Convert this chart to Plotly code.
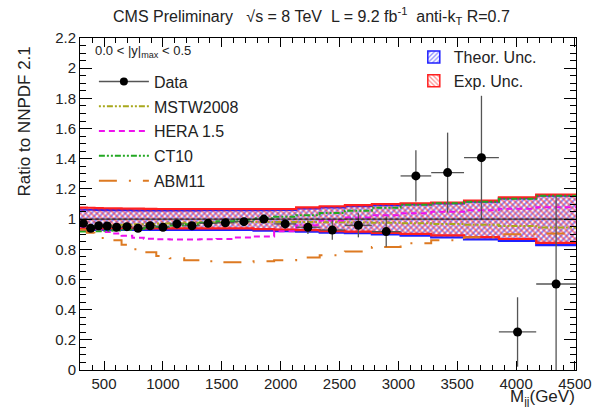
import plotly.graph_objects as go

# ---------------- data ----------------
bin_edges = [296, 354, 419, 489, 565, 649, 740, 838, 944, 1058, 1181, 1313, 1455,
             1607, 1770, 1945, 2132, 2332, 2546, 2775, 3019, 3279, 3558, 3854, 4171, 4509]

data_ratio = [0.972, 0.939, 0.956, 0.954, 0.946, 0.950, 0.939, 0.956, 0.946, 0.968,
              0.956, 0.972, 0.976, 0.983, 1.000, 0.968, 0.946, 0.928, 0.959, 0.917,
              1.286, 1.308, 1.407, 0.252, 0.570]
data_err = [0.010, 0.010, 0.010, 0.010, 0.010, 0.010, 0.012, 0.012, 0.013, 0.014,
            0.015, 0.017, 0.020, 0.022, 0.025, 0.030, 0.045, 0.065, 0.080, 0.100,
            0.170, 0.265, 0.410, 0.230, 0.580]

theor_up = [1.062, 1.062, 1.061, 1.060, 1.060, 1.059, 1.058, 1.058, 1.058, 1.058,
            1.058, 1.059, 1.059, 1.060, 1.060, 1.061, 1.071, 1.078, 1.086, 1.093,
            1.098, 1.104, 1.115, 1.137, 1.155]
theor_dn = [0.929, 0.929, 0.928, 0.928, 0.928, 0.928, 0.928, 0.928, 0.928, 0.928,
            0.928, 0.928, 0.928, 0.928, 0.924, 0.920, 0.917, 0.910, 0.907, 0.899,
            0.890, 0.879, 0.866, 0.855, 0.828]
exp_up = [1.076, 1.075, 1.073, 1.072, 1.071, 1.070, 1.069, 1.068, 1.067, 1.067,
          1.067, 1.067, 1.067, 1.067, 1.067, 1.067, 1.078, 1.085, 1.093, 1.100,
          1.105, 1.110, 1.122, 1.144, 1.162]
exp_dn = [0.939, 0.939, 0.938, 0.938, 0.938, 0.938, 0.938, 0.938, 0.938, 0.938,
          0.938, 0.938, 0.938, 0.938, 0.934, 0.930, 0.927, 0.920, 0.917, 0.909,
          0.902, 0.892, 0.880, 0.868, 0.842]

mstw2008 = [0.950, 0.952, 0.955, 0.957, 0.960, 0.962, 0.965, 0.968, 0.970, 0.972,
            0.975, 0.977, 0.979, 0.980, 0.981, 0.981, 0.980, 0.979, 0.977, 0.975,
            0.972, 0.968, 0.963, 0.955, 0.945]
hera15 = [0.950, 0.935, 0.925, 0.915, 0.905, 0.890, 0.877, 0.870, 0.866, 0.864,
          0.864, 0.866, 0.868, 0.878, 0.885, 0.920, 0.960, 0.990, 1.010, 1.025,
          1.038, 1.048, 1.058, 1.068, 1.078]
ct10 = [0.918, 0.918, 0.920, 0.922, 0.925, 0.930, 0.935, 0.942, 0.950, 0.958,
        0.966, 0.975, 0.985, 0.995, 1.005, 1.015, 1.025, 1.040, 1.055, 1.075,
        1.095, 1.105, 1.115, 1.135, 1.155]
abm11 = [0.930, 0.910, 0.895, 0.875, 0.860, 0.830, 0.800, 0.780, 0.755, 0.740,
         0.727, 0.720, 0.714, 0.714, 0.720, 0.728, 0.745, 0.760, 0.785, 0.815,
         0.840, 0.860, 0.880, 0.900, 0.905]

x_tick_vals = [500, 1000, 1500, 2000, 2500, 3000, 3500, 4000, 4500]
y_tick_vals = [0, 0.2, 0.4, 0.6, 0.8, 1, 1.2, 1.4, 1.6, 1.8, 2, 2.2]
y_tick_text = ["0", "0.2", "0.4", "0.6", "0.8", "1", "1.2", "1.4", "1.6", "1.8", "2", "2.2"]

reference_level = 1.0
x_range = [bin_edges[0], bin_edges[-1]]
y_range = [0, 2.2]

# ---------------- helpers ----------------
centers = [(a + b) / 2 for a, b in zip(bin_edges[:-1], bin_edges[1:])]
half_w = [(b - a) / 2 for a, b in zip(bin_edges[:-1], bin_edges[1:])]


def step(vals):
    return vals + [vals[-1]]


FONT = "Liberation Sans, Arial, Helvetica, sans-serif"
TXT = "#222222"
fig = go.Figure()


def band(lo, hi, color, shape, name):
    fig.add_trace(go.Scatter(x=bin_edges, y=step(lo), mode="lines", line_shape="hv",
                             line=dict(color=color, width=2.2), showlegend=False,
                             hoverinfo="skip"))
    fig.add_trace(go.Scatter(x=bin_edges, y=step(hi), mode="lines", line_shape="hv",
                             line=dict(color=color, width=2.2), fill="tonexty",
                             fillcolor="rgba(0,0,0,0)",
                             fillpattern=dict(shape=shape, fgcolor=color,
                                              bgcolor="rgba(0,0,0,0)", size=4,
                                              solidity=0.5),
                             showlegend=False, hoverinfo="skip"))
    # legend entry
    fig.add_trace(go.Bar(x=[None], y=[None], name=name, legend="legend2",
                         marker=dict(color="rgba(0,0,0,0)",
                                     line=dict(color=color, width=1.5),
                                     pattern=dict(shape=shape, fgcolor=color,
                                                  bgcolor="white", size=4,
                                                  solidity=0.4))))


band(theor_dn, theor_up, "#1f1fff", "/", "Theor. Unc.")
band(exp_dn, exp_up, "#ff2020", "\\", "Exp. Unc.")

# reference line at 1
fig.add_shape(type="line", xref="x", yref="y", x0=x_range[0], x1=x_range[1],
              y0=reference_level, y1=reference_level,
              line=dict(color="black", width=1))

# Data legend dummy (line + marker) placed first
fig.add_trace(go.Scatter(x=[None], y=[None], mode="lines+markers", name="Data",
                         legendgroup="Data",
                         line=dict(color="#555555", width=1.5),
                         marker=dict(color="black", size=8)))

models = [
    ("MSTW2008", mstw2008, "#a8a81c", "2px,2px,2px,2px,6px,2px"),
    ("HERA 1.5", hera15, "#ee11ee", "6px,4px"),
    ("CT10", ct10, "#22a822", "6px,2px,2px,2px,2px,2px"),
    ("ABM11", abm11, "#dd7a22", "18px,12px,2px,12px"),
]
for name, vals, col, dash in models:
    fig.add_trace(go.Scatter(x=bin_edges, y=step(vals), mode="lines", line_shape="hv",
                             name=name, legendgroup=name,
                             line=dict(color=col, width=2, dash=dash)))

# Data points
fig.add_trace(go.Scatter(x=centers, y=data_ratio, mode="markers", showlegend=False,
                         marker=dict(color="black", size=9),
                         error_y=dict(type="data", array=data_err, color="#555555",
                                      thickness=1.3, width=0),
                         error_x=dict(type="data", array=half_w, color="#555555",
                                      thickness=1.3, width=0)))

axis_common = dict(showline=True, linecolor="black", linewidth=1, mirror="allticks",
                   ticks="inside", tickcolor="black", showgrid=False, zeroline=False,
                   tickfont=dict(family=FONT, size=15, color=TXT))

fig.update_xaxes(range=x_range, tickvals=x_tick_vals,
                 ticklen=9, minor=dict(dtick=100, tick0=0, ticklen=5, ticks="inside",
                                       tickcolor="black", showgrid=False),
                 **axis_common)
fig.update_yaxes(range=y_range, ticklen=12,
                 tickvals=y_tick_vals, ticktext=y_tick_text,
                 minor=dict(dtick=0.05, tick0=0, ticklen=6, ticks="inside",
                            tickcolor="black", showgrid=False),
                 **axis_common)

fig.update_layout(
    width=610, height=407,
    margin=dict(l=80, r=34, t=38, b=37),
    paper_bgcolor="white", plot_bgcolor="white",
    font=dict(family=FONT, color=TXT),
    legend=dict(x=0.028, y=0.92, xanchor="left", yanchor="top", traceorder="grouped",
                bgcolor="rgba(0,0,0,0)", font=dict(family=FONT, size=16, color=TXT),
                itemwidth=50, tracegroupgap=1),
    legend2=dict(x=0.673, y=0.994, xanchor="left", yanchor="top", traceorder="normal",
                 bgcolor="rgba(0,0,0,0)", font=dict(family=FONT, size=16, color=TXT),
                 itemwidth=30),
    annotations=[
        dict(text="CMS Preliminary   √s = 8 TeV  L = 9.2 fb<sup>-1</sup>  anti-k<sub>T</sub> R=0.7",
             xref="paper", yref="paper", x=0.466, y=1.0, yshift=22, showarrow=False,
             xanchor="center", yanchor="middle", font=dict(family=FONT, size=16, color=TXT)),
        dict(text="0.0 < |y|<sub>max</sub> < 0.5", xref="paper", yref="paper",
             x=0.026, y=1 - 14 / 332, showarrow=False, xanchor="left", yanchor="middle",
             font=dict(family=FONT, size=13, color=TXT)),
        dict(text="Ratio to NNPDF 2.1", xref="paper", yref="paper", x=-0.111, y=0.7485,
             textangle=-90, showarrow=False, xanchor="center", yanchor="middle",
             font=dict(family=FONT, size=17, color=TXT)),
        dict(text="M<sub>jj</sub>(GeV)", xref="paper", yref="paper", x=1.003, y=-0.084,
             showarrow=False, xanchor="right", yanchor="middle",
             font=dict(family=FONT, size=17, color=TXT)),
    ],
)

# remove the browser's default 8px page margin so the figure fills the window exactly
fig.write_html("out.html", config={"displayModeBar": False},
               post_script="document.body.style.margin='0px';")
